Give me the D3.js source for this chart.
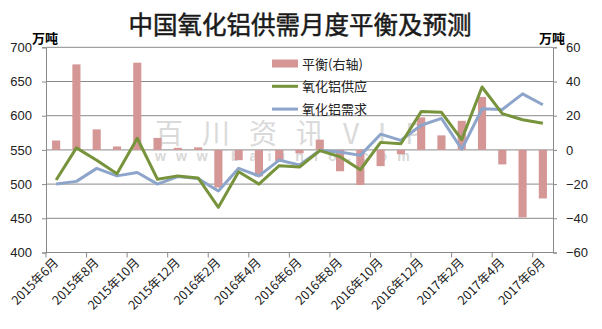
<!DOCTYPE html>
<html>
<head>
<meta charset="utf-8">
<script src="https://cdn.jsdelivr.net/npm/d3@7"></script>
<style>
  body { margin: 0; background: #fff; }
  text { font-family: "Liberation Sans", Arial, "Noto Sans CJK SC", sans-serif; }
  .cjk { font-family: "Noto Sans CJK SC", sans-serif; }
</style>
</head>
<body>
<div id="chart"></div>
<script>
// months (categories)
const months = [
  "2015年6月", "2015年7月", "2015年8月", "2015年9月", "2015年10月", "2015年11月", "2015年12月",
  "2016年1月", "2016年2月", "2016年3月", "2016年4月", "2016年5月", "2016年6月", "2016年7月",
  "2016年8月", "2016年9月", "2016年10月", "2016年11月", "2016年12月",
  "2017年1月", "2017年2月", "2017年3月", "2017年4月", "2017年5月", "2017年6月"
]
// 平衡 (right axis), 万吨
const balance = [5.5, 50, 12, 2, 51, 7, 1.2, 1.5, -22, -6, -15.5, -7, -2, 6, -12.5, -20.5, -9.5,
  -2.5, 19, 8.5, 17, 31, -8.5, -39.5, -28.4]
// 氧化铝供应 (left axis)
const supply = [506, 553, 535, 515, 567, 507, 512, 509, 466, 518, 500, 527, 525, 549, 540, 521,
  561, 559, 606, 605, 565, 642, 603, 594, 589]
// 氧化铝需求 (left axis)
const demand = [500, 504, 523, 512, 517, 500, 511, 508, 490, 523, 512, 535, 528, 549, 547, 542,
  573, 564, 586, 596, 551, 610, 609, 632, 616]

const leftTicks = [400, 450, 500, 550, 600, 650, 700]
const rightTicks = [-60, -40, -20, 0, 20, 40, 60]

const W = 602, H = 329
const plot = { left: 46, right: 553, top: 47.3, bottom: 252.5 }

const svg = d3.select("#chart").append("svg")
  .attr("width", W).attr("height", H)

// scales
const x = d3.scaleBand().domain(months)
  .range([plot.left, plot.right])
  .paddingInner(0.6).paddingOuter(0.3)
const yL = d3.scaleLinear().domain([400, 700]).range([plot.bottom, plot.top])
const yR = d3.scaleLinear().domain([-60, 60]).range([plot.bottom, plot.top])
const cx = d => x(d) + x.bandwidth() / 2
const edge = i => x(months[i]) - (x.step() - x.bandwidth()) / 2

// title
svg.append("text").attr("class", "cjk")
  .attr("x", 300).attr("y", 34)
  .attr("text-anchor", "middle")
  .attr("font-size", 24.5)
  .attr("fill", "#1a1a1a").attr("stroke", "#1a1a1a").attr("stroke-width", 0.5)
  .text("中国氧化铝供需月度平衡及预测")

// unit labels
svg.append("text").attr("class", "cjk")
  .attr("x", 32).attr("y", 43)
  .attr("font-size", 13).attr("font-weight", "bold")
  .text("万吨")
svg.append("text").attr("class", "cjk")
  .attr("x", 539).attr("y", 43)
  .attr("font-size", 13).attr("font-weight", "bold")
  .text("万吨")

// gridlines
svg.append("g").selectAll("line")
  .data(leftTicks.slice(1))
  .join("line")
  .attr("x1", plot.left).attr("x2", plot.right)
  .attr("y1", d => yL(d)).attr("y2", d => yL(d))
  .attr("stroke", "#8a8a8a").attr("stroke-width", 1)

// watermark
svg.append("text").attr("class", "cjk")
  .attr("x", 155).attr("y", 144)
  .attr("font-size", 28).attr("letter-spacing", 19)
  .attr("fill", "#d4d4d4").attr("opacity", 0.85)
  .text("百川资讯VIP")
svg.append("text")
  .attr("x", 155).attr("y", 161)
  .attr("font-size", 14).attr("font-weight", "bold").attr("letter-spacing", 10)
  .attr("fill", "#d2d2d2").attr("opacity", 0.85)
  .text("www.baiinfo.com")

// bars
svg.append("g").selectAll("rect")
  .data(balance)
  .join("rect")
  .attr("x", (d, i) => x(months[i]))
  .attr("width", x.bandwidth())
  .attr("y", d => yR(Math.max(0, d)))
  .attr("height", d => Math.abs(yR(d) - yR(0)))
  .attr("fill", "#d59696")

// lines
const line = d3.line()
  .x((d, i) => cx(months[i]))
  .y(d => yL(d))

svg.append("path").datum(demand)
  .attr("d", line)
  .attr("fill", "none").attr("stroke", "#8ea5cb")
  .attr("stroke-width", 3).attr("stroke-linejoin", "round")

svg.append("path").datum(supply)
  .attr("d", line)
  .attr("fill", "none").attr("stroke", "#77933c")
  .attr("stroke-width", 3).attr("stroke-linejoin", "round")

// left axis
const axL = svg.append("g")
  .attr("transform", "translate(" + plot.left + ",0)")
  .call(d3.axisLeft(yL).tickValues(leftTicks).tickSize(4).tickPadding(10))
axL.select(".domain").attr("stroke", "#8a8a8a")
axL.selectAll(".tick line").attr("stroke", "#8a8a8a")
axL.selectAll(".tick text").attr("font-size", 13).attr("fill", "#222")
  .style("font-family", "'Liberation Sans', Arial, sans-serif")

// right axis
const axR = svg.append("g")
  .attr("transform", "translate(" + plot.right + ",0)")
  .call(d3.axisRight(yR).tickValues(rightTicks).tickSize(4).tickPadding(9))
axR.select(".domain").attr("stroke", "#8a8a8a")
axR.selectAll(".tick line").attr("stroke", "#8a8a8a")
axR.selectAll(".tick text").attr("font-size", 13).attr("fill", "#222")
  .style("font-family", "'Liberation Sans', Arial, sans-serif")

// x axis
svg.append("line")
  .attr("x1", plot.left).attr("x2", plot.right)
  .attr("y1", plot.bottom).attr("y2", plot.bottom)
  .attr("stroke", "#8a8a8a")
const tickIdx = d3.range(0, months.length, 2)
svg.append("g").selectAll("line")
  .data(tickIdx)
  .join("line")
  .attr("x1", i => edge(i)).attr("x2", i => edge(i))
  .attr("y1", plot.bottom).attr("y2", plot.bottom + 5)
  .attr("stroke", "#8a8a8a")
svg.append("g").selectAll("text")
  .data(tickIdx)
  .join("text")
  .attr("class", "cjk")
  .attr("transform", i => "translate(" + (cx(months[i]) + 3) + "," + (plot.bottom + 11) + ") rotate(-45)")
  .attr("text-anchor", "end")
  .attr("font-size", 12.5).attr("fill", "#222")
  .text(i => months[i])

// legend
const legend = [
  { name: "平衡(右轴)", type: "bar", color: "#d59696" },
  { name: "氧化铝供应", type: "line", color: "#77933c" },
  { name: "氧化铝需求", type: "line", color: "#8ea5cb" }
]
const lg = svg.append("g").selectAll("g")
  .data(legend)
  .join("g")
  .attr("transform", (d, i) => "translate(272," + (63.5 + i * 22.8) + ")")
lg.filter(d => d.type === "bar").append("rect")
  .attr("x", 0).attr("y", -4).attr("width", 26).attr("height", 8)
  .attr("fill", d => d.color)
lg.filter(d => d.type === "line").append("line")
  .attr("x1", 0).attr("x2", 26)
  .attr("stroke", d => d.color).attr("stroke-width", 3)
lg.append("text").attr("class", "cjk")
  .attr("x", 30).attr("y", 5)
  .attr("font-size", 13).attr("fill", "#222")
  .text(d => d.name)
</script>
</body>
</html>
